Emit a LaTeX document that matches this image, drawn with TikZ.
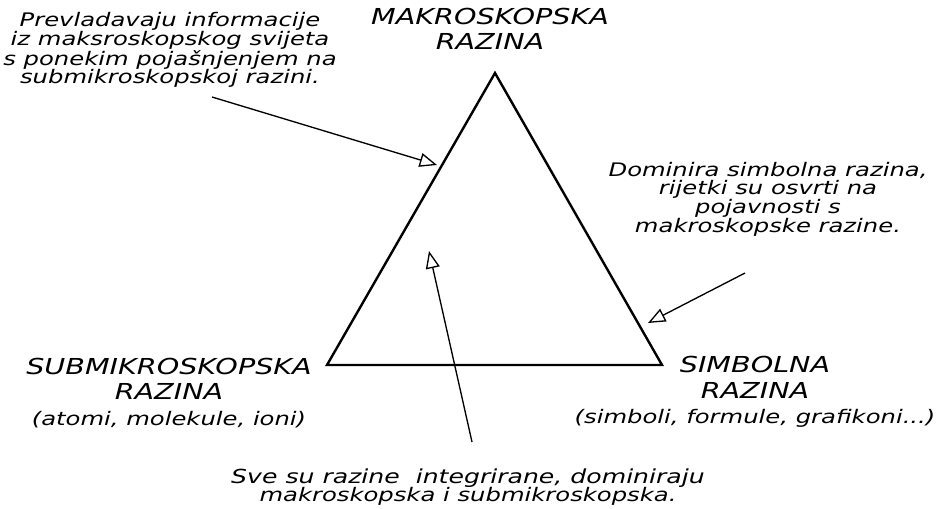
\documentclass[tikz,border=0pt]{standalone}
\usepackage{fontspec}
\newfontfamily\handfont[FakeStretch=1.3]{DejaVu Sans}
\usepackage{tikz}
\usetikzlibrary{positioning, arrows.meta}
\tikzstyle{level} = [font=\handfont\itshape\fontsize{16.5}{19}\selectfont, align=center, inner sep=0pt]
\tikzstyle{note} = [font=\handfont\itshape\fontsize{14}{14}\selectfont, align=center, inner sep=0pt]
\tikzstyle{pointer} = [-{Triangle[open, length=13pt, width=10.5pt]}, line width=1pt]
\tikzstyle{edge} = [line width=1.8pt, line join=miter]

\begin{document}
\begin{tikzpicture}[x=0.75pt, y=-0.75pt]
\useasboundingbox (0,0) rectangle (942,508);
\coordinate (top) at (495,73);
\coordinate (left) at (327,365);
\coordinate (right) at (662,365);
\draw[edge] (top) -- (left) -- (right) -- cycle;
\node[level] (makro) at (490,29) {MAKROSKOPSKA\\RAZINA};
\node[level] (submikro) at (169,393) {SUBMIKROSKOPSKA\\RAZINA\\{\fontsize{14}{14}\selectfont(atomi, molekule, ioni)}};
\node[level] (simbol) at (755,392) {SIMBOLNA\\RAZINA\\{\fontsize{14}{14}\selectfont(simboli, formule, grafikoni...)}};
\node[note] (makronote) at (170,50) {Prevladavaju informacije\\iz maksroskopskog svijeta\\s ponekim pojašnjenjem na\\submikroskopskoj razini.};
\node[note] (simbolnote) at (768,199) {Dominira simbolna razina,\\rijetki su osvrti na\\pojavnosti s\\makroskopske razine.};
\node[note] (sve) at (468,487) {\fontsize{14.5}{14}\selectfont Sve su razine\ \ integrirane, dominiraju\\makroskopska i submikroskopska.};
\coordinate (tail1) at (212,97);
\coordinate (tip1) at (437,165);
\coordinate (tail2) at (745,273);
\coordinate (tip2) at (648,323);
\coordinate (tail3) at (472,442);
\coordinate (tip3) at (429,251);
\draw[pointer] (tail1) -- (tip1);
\draw[pointer] (tail2) -- (tip2);
\draw[pointer] (tail3) -- (tip3);
\end{tikzpicture}
\end{document}
